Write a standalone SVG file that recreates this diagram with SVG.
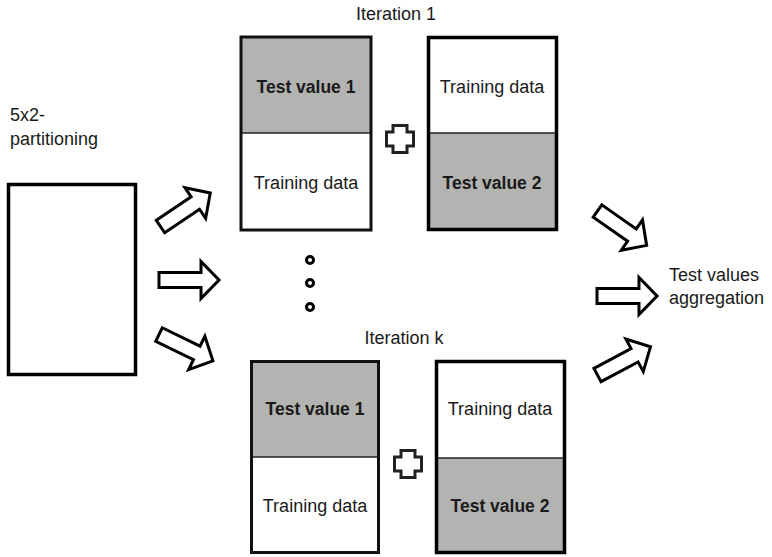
<svg xmlns="http://www.w3.org/2000/svg" width="772" height="557" viewBox="0 0 772 557">
<style>
  text { font-family: "Liberation Sans", Arial, sans-serif; fill: #1a1a1a; }
  .lbl { font-size: 18px; }
  .bold { font-size: 17.5px; font-weight: bold; }
  .box { fill: none; stroke: #111; stroke-width: 3; }
  .boxr { fill: none; stroke: #000; stroke-width: 3.5; }
  .test { fill: #b3b3b1; }
  .train { fill: #ffffff; }
  .split { stroke: #222; stroke-width: 1.5; }
  .arrow { fill: #ffffff; stroke: #000; stroke-width: 3; stroke-linejoin: miter; }
  .plus { fill: #ffffff; stroke: #222; stroke-width: 3; }
  .dot { fill: #ffffff; stroke: #000; stroke-width: 3; }
</style>
<defs>
  <path id="blockArrow" d="M0,-7.5 L42,-7.5 L42,-18.5 L60,0 L42,18.5 L42,7.5 L0,7.5 Z"/>
  <path id="plusShape" d="M-7,-13.5 L7,-13.5 L7,-7 L13.5,-7 L13.5,7 L7,7 L7,13.5 L-7,13.5 L-7,7 L-13.5,7 L-13.5,-7 L-7,-7 Z"/>
</defs>
<rect width="772" height="557" fill="#ffffff"/>

<g id="partitioning">
  <text class="lbl" x="10" y="121">5x2-</text>
  <text class="lbl" x="10" y="145">partitioning</text>
  <rect class="boxr" x="8.5" y="184.5" width="127" height="190" fill="#fff"/>
</g>

<g id="iteration1-label"><text class="lbl" x="396" y="20" text-anchor="middle">Iteration 1</text></g>

<g id="iter1-fold1">
  <rect class="test" x="241" y="37" width="130" height="96"/>
  <rect class="train" x="241" y="133" width="130" height="97"/>
  <line class="split" x1="241" y1="133" x2="371" y2="133"/>
  <rect class="box" x="241" y="37" width="130" height="193"/>
  <text class="bold" x="306" y="93" text-anchor="middle">Test value 1</text>
  <text class="lbl" x="306" y="189" text-anchor="middle">Training data</text>
</g>

<g id="iter1-fold2">
  <rect class="train" x="428.5" y="37.5" width="128" height="95.5"/>
  <rect class="test" x="428.5" y="133" width="128" height="96.5"/>
  <line class="split" x1="428.5" y1="133" x2="556.5" y2="133"/>
  <rect class="boxr" x="428.5" y="37.5" width="128" height="192"/>
  <text class="lbl" x="492" y="93" text-anchor="middle">Training data</text>
  <text class="bold" x="492" y="189" text-anchor="middle">Test value 2</text>
</g>

<g id="plus1"><use href="#plusShape" class="plus" transform="translate(400,139)"/></g>

<g id="ellipsis">
  <circle class="dot" cx="310" cy="260" r="3.5"/>
  <circle class="dot" cx="310" cy="283" r="3.5"/>
  <circle class="dot" cx="310" cy="307" r="3.5"/>
</g>

<g id="iterationk-label"><text class="lbl" x="404" y="344" text-anchor="middle">Iteration k</text></g>

<g id="iterk-fold1">
  <rect class="test" x="251.5" y="361.5" width="127" height="95.5"/>
  <rect class="train" x="251.5" y="457" width="127" height="95.5"/>
  <line class="split" x1="251.5" y1="457" x2="378.5" y2="457"/>
  <rect class="box" x="251.5" y="361.5" width="127" height="191"/>
  <text class="bold" x="315" y="415" text-anchor="middle">Test value 1</text>
  <text class="lbl" x="315" y="512" text-anchor="middle">Training data</text>
</g>

<g id="iterk-fold2">
  <rect class="train" x="436.5" y="361.5" width="128" height="96.5"/>
  <rect class="test" x="436.5" y="458" width="128" height="94.5"/>
  <line class="split" x1="436.5" y1="458" x2="564.5" y2="458"/>
  <rect class="boxr" x="436.5" y="361.5" width="128" height="191"/>
  <text class="lbl" x="500" y="415" text-anchor="middle">Training data</text>
  <text class="bold" x="500" y="512" text-anchor="middle">Test value 2</text>
</g>

<g id="plusk"><use href="#plusShape" class="plus" transform="translate(408,464)"/></g>

<g id="aggregation">
  <text class="lbl" x="669" y="281">Test values</text>
  <text class="lbl" x="669" y="304">aggregation</text>
</g>

<g id="connectors">
  <use href="#blockArrow" class="arrow" transform="translate(160.5,226.5) rotate(-34)"/>
  <use href="#blockArrow" class="arrow" transform="translate(159,280)"/>
  <use href="#blockArrow" class="arrow" transform="translate(159,334.5) rotate(26)"/>
  <use href="#blockArrow" class="arrow" transform="translate(597.5,211) rotate(35)"/>
  <use href="#blockArrow" class="arrow" transform="translate(597,296)"/>
  <use href="#blockArrow" class="arrow" transform="translate(597.5,375) rotate(-28)"/>
</g>
</svg>
